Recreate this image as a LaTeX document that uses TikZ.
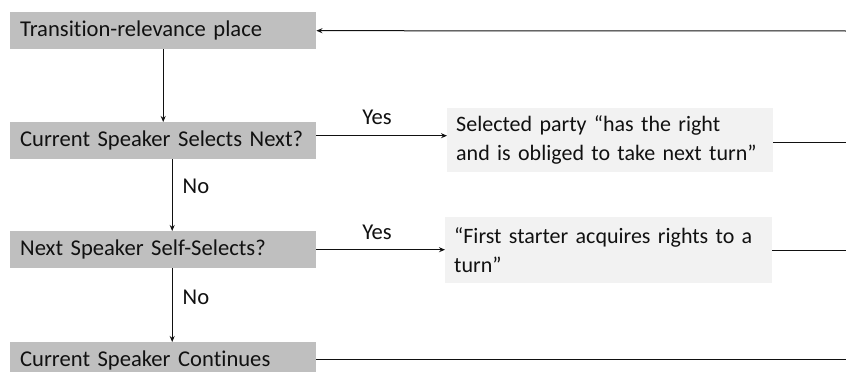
\documentclass[tikz,border=0pt]{standalone}
\usepackage{fontspec}
\setmainfont[Ligatures={NoCommon}]{Carlito}
\usetikzlibrary{arrows.meta}
\definecolor{boxdark}{HTML}{BFBFBF}
\definecolor{boxlight}{HTML}{F2F2F2}
\definecolor{txt}{HTML}{111111}
\begin{document}
\begin{tikzpicture}[x=1pt,y=-1pt,
  darkbox/.style={fill=boxdark, anchor=north west, minimum width=306pt, minimum height=37pt,
    text width=286pt, inner xsep=10pt, inner ysep=0pt, align=left, text=txt,
    font=\fontsize{22.6}{26}\selectfont},
  lightbox/.style={fill=boxlight, anchor=north west, minimum height=64pt,
    inner xsep=9pt, inner ysep=0pt, align=left, text=txt,
    font=\fontsize{22}{28.5}\selectfont},
  lbl/.style={text=txt, font=\fontsize{22.6}{26}\selectfont, inner sep=0pt},
  conn/.style={line width=1pt, draw=txt},
  arr/.style={conn, -{Stealth[length=6pt,width=5pt]}}]
\clip (0,0) rectangle (846,372);
\fill[white] (0,0) rectangle (846,372);
% boxes
\node[darkbox] (b1) at (10,12) {Transition-relevance place};
\node[darkbox] (b2) at (10,122) {Current Speaker Selects Next?};
\node[darkbox] (b3) at (10,231) {Next Speaker Self-Selects?};
\node[darkbox] (b4) at (10,342) {Current Speaker Continues};
\node[lightbox, text width=308pt] (s1) at (447,108) {\mbox{Selected party “has the right}\\\mbox{and is obliged to take next turn”}};
\node[lightbox, text width=309pt, minimum height=66pt] (s2) at (445,217) {\mbox{“First starter acquires rights to a}\\turn”};
% free ends at right edge
\coordinate (r1) at (846,31);
\coordinate (r2) at (846,142);
\coordinate (r3) at (846,250);
\coordinate (r4) at (846,359);
% connectors
\draw[arr] (r1) -- (b1.east);
\draw[arr] (b1.south) -- (b2.north);
\draw[arr] ([xshift=9pt]b2.south) -- ([xshift=9pt]b3.north);
\draw[arr] ([xshift=9pt]b3.south) -- ([xshift=9pt]b4.north);
\draw[arr] ([yshift=5pt]b2.east) -- ([yshift=5pt]b2.east -| s1.west);
\draw[arr] (b3.east) -- (b3.east -| s2.west);
\draw[conn] (s1.east |- r2) -- (r2);
\draw[conn] (s2.east |- r3) -- (r3);
\draw[conn] (b4.east |- r4) -- (r4);
% labels
\node[lbl] (y1) at (377,117) {Yes};
\node[lbl] (y2) at (377,232) {Yes};
\node[lbl] (n1) at (196,186) {No};
\node[lbl] (n2) at (196,297) {No};
\end{tikzpicture}
\end{document}
